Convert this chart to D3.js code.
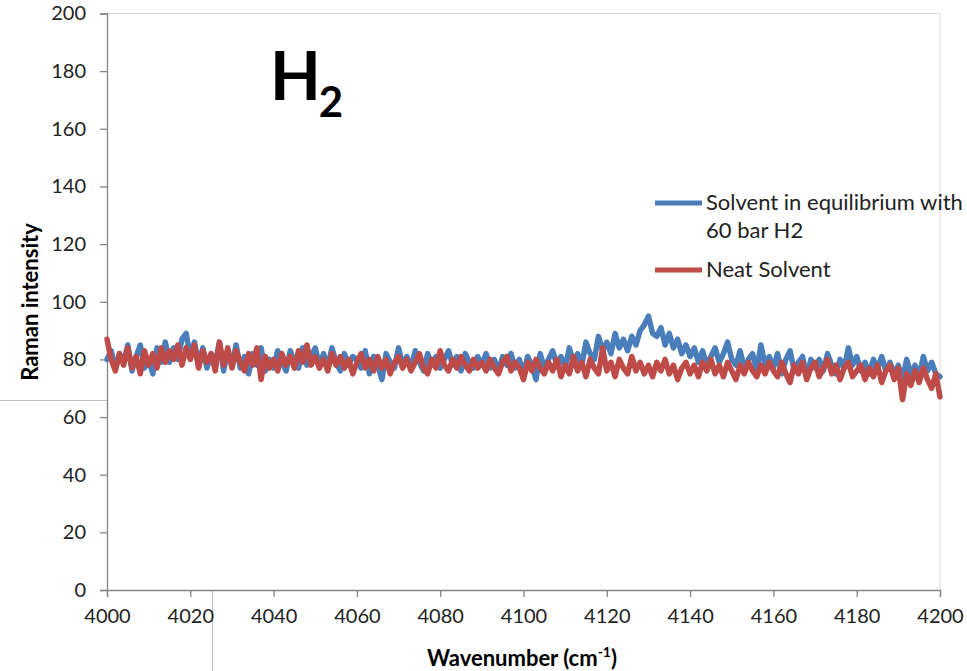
<!DOCTYPE html>
<html><head><meta charset="utf-8">
<script src="https://cdn.jsdelivr.net/npm/d3@7/dist/d3.min.js"></script>
<style>
body{margin:0;background:#fff;}
svg{display:block;font-family:Lato,"Open Sans",sans-serif;}
</style></head>
<body><svg id="c" width="967" height="671"></svg>
<script>
const xStart = 4000, xStep = 1;
const xTicks = [4000,4020,4040,4060,4080,4100,4120,4140,4160,4180,4200];
const yTicks = [0,20,40,60,80,100,120,140,160,180,200];
const seriesNames = ["Solvent in equilibrium with|60 bar H2", "Neat Solvent"];
const seriesColors = ["#4a7ebb", "#be4b48"];
const h2Values = [
80,83,77,82,79,85,76,81,85,77,
80,75,84,79,86,79,84,80,87,89,
81,86,78,84,77,82,79,86,76,83,
78,85,77,81,75,82,78,84,76,80,
77,83,79,76,83,79,77,84,78,81,
84,78,82,77,84,79,76,82,78,81,
80,77,83,75,81,78,73,82,79,77,
84,78,81,77,83,79,76,82,78,81,
77,80,83,78,81,76,82,79,77,81,
78,82,77,80,76,81,78,82,77,80,
75,81,78,73,82,77,80,83,78,81,
77,84,79,82,78,86,82,80,88,83,
86,82,89,84,87,83,88,85,90,92,
95,89,88,91,85,89,84,87,82,85,
81,84,79,83,78,81,84,79,82,86,
80,78,83,77,80,82,76,85,78,81,
77,82,75,80,83,76,79,81,74,80,
77,80,76,82,78,75,80,77,84,78,
81,76,79,75,80,77,81,76,79,75,
78,73,80,75,78,74,81,76,79,75,
74];
const neatValues = [
87,80,76,82,78,84,77,81,75,83,
78,82,77,84,79,83,80,85,78,84,
80,85,77,83,79,82,76,86,78,84,
77,83,79,76,82,78,84,73,81,77,
80,76,82,78,81,77,83,79,85,78,
81,77,80,76,82,78,81,77,80,75,
79,82,77,80,76,81,77,80,75,79,
81,77,80,76,79,82,77,75,80,77,
83,78,76,80,77,81,78,76,80,77,
79,76,80,77,75,79,81,76,79,77,
73,79,76,80,77,75,79,76,80,74,
78,75,81,76,79,74,80,77,75,84,
76,79,74,80,77,75,81,76,79,75,
78,74,79,76,80,75,78,73,77,79,
75,78,74,79,76,80,75,78,74,79,
76,73,78,75,79,76,74,78,75,79,
76,74,79,75,72,78,75,79,73,77,
79,74,77,80,75,78,73,77,79,74,
76,78,73,77,74,78,72,76,78,73,
77,66,75,71,76,72,77,73,70,75,
67];

const svg = d3.select("#c");
const L = 107, R = 940, T = 13.5, B = 590;
const x = d3.scaleLinear().domain([4000,4200]).range([L,R]);
const y = d3.scaleLinear().domain([0,200]).range([B,T]);
const axisColor = "#868686";

// stray frame lines
svg.append("line").attr("x1",0).attr("x2",L).attr("y1",400.5).attr("y2",400.5).attr("stroke","#bfbfbf").attr("stroke-width",1);
svg.append("line").attr("x1",212.5).attr("x2",212.5).attr("y1",B).attr("y2",671).attr("stroke","#bfbfbf").attr("stroke-width",1);
// plot border top/right
svg.append("path").attr("d",`M${L},${T}H${R}V${B}`).attr("fill","none").attr("stroke","#d9d9d9").attr("stroke-width",1);

// axes
const yAxis = d3.axisLeft(y).tickValues(yTicks).tickSize(7).tickPadding(14);
const gy = svg.append("g").attr("transform",`translate(${L},0)`).call(yAxis);
const xAxis = d3.axisBottom(x).tickValues(xTicks).tickSize(7).tickPadding(12).tickFormat(d3.format("d"));
const gx = svg.append("g").attr("transform",`translate(0,${B})`).call(xAxis);
[gx,gy].forEach(g=>{
  g.select(".domain").attr("stroke",axisColor).attr("stroke-width",1.3);
  g.selectAll(".tick line").attr("stroke",axisColor).attr("stroke-width",1.3);
  g.selectAll(".tick text").attr("fill","#222").style("font-size","20px").style("font-family","Lato, 'Open Sans', sans-serif");
});

// lines
const line = d3.line().x((d,i)=>x(xStart+i*xStep)).y(d=>y(d)).curve(d3.curveLinear);
[h2Values, neatValues].forEach((vals,k)=>{
  svg.append("path").datum(vals).attr("d",line).attr("fill","none")
    .attr("stroke",seriesColors[k]).attr("stroke-width",5.5).attr("stroke-linejoin","round").attr("stroke-linecap","round");
});

// title
const t = svg.append("text").attr("x",270).attr("y",100).attr("font-weight","bold").attr("fill","#000").style("font-size","66px");
t.append("tspan").text("H");
t.append("tspan").text("2").style("font-size","42px").attr("dy",17).attr("dx",-2);

// legend
const legY = [203, 270];
seriesNames.forEach((n,k)=>{
  svg.append("line").attr("x1",655).attr("x2",702).attr("y1",legY[k]).attr("y2",legY[k])
    .attr("stroke",seriesColors[k]).attr("stroke-width",5);
  const lines = n.split("|");
  lines.forEach((s,j)=>{
    svg.append("text").attr("x",706).attr("y",legY[k]+7+j*28).attr("fill","#222").style("font-size","22px").text(s);
  });
});

// axis titles
svg.append("text").attr("transform","translate(38,302) rotate(-90)").attr("text-anchor","middle")
  .attr("font-weight","bold").style("font-size","22px").attr("fill","#000").text("Raman intensity");
const xt = svg.append("text").attr("x",522).attr("y",666).attr("text-anchor","middle")
  .attr("font-weight","bold").style("font-size","22px").attr("fill","#000");
xt.append("tspan").text("Wavenumber (cm");
xt.append("tspan").text("-1").style("font-size","14px").attr("dy",-9);
xt.append("tspan").text(")").attr("dy",9);
</script></body></html>
